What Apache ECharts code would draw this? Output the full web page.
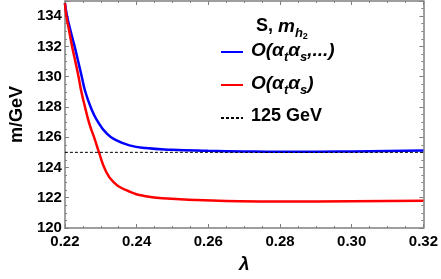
<!DOCTYPE html>
<html>
<head>
<meta charset="utf-8">
<script src="https://cdn.jsdelivr.net/npm/echarts@6/dist/echarts.min.js"></script>
<style>html,body{margin:0;padding:0;background:#fff}#c{width:441px;height:279px}</style>
</head>
<body>
<div id="c"></div>
<script>
var lambdaBlue = [0.2200,0.2206,0.2216,0.2227,0.2237,0.2247,0.2256,0.2272,0.2290,0.2317,0.2344,0.2380,0.2425,0.2497,0.2600,0.2700,0.2800,0.2900,0.3000,0.3100,0.3200];
var mBlue      = [134.85,134.0,133.0,132.0,131.0,130.0,129.08,127.98,127.1,126.23,125.79,125.46,125.28,125.17,125.1,125.06,125.04,125.04,125.06,125.09,125.12];
var lambdaRed  = [0.2200,0.2204,0.2212,0.2220,0.2229,0.2238,0.2245,0.2256,0.2268,0.2282,0.2295,0.2313,0.2335,0.2371,0.2425,0.2497,0.2562,0.2650,0.2800,0.3000,0.3200];
var mRed       = [134.85,134.0,133.0,132.0,131.0,130.0,129.1,128.0,126.9,125.95,125.0,123.82,123.05,122.5,122.1,121.93,121.85,121.79,121.75,121.76,121.8];
var lambdaRef  = [0.22,0.32];
var mRef       = [125,125];
var seriesNames = ['O(αtαs,...)','O(αtαs)','125 GeV'];
var xTicks = {min:0.22,max:0.32,interval:0.02};
var yTicks = {min:120,max:135,interval:2};

function pairs(xs,ys){return xs.map(function(x,i){return [x,ys[i]];});}

var font = 'Liberation Sans, Arial, sans-serif';
var gray = '#7f7f7f';
function axisCommon(showLabel){
  return {
    axisLine:{show:true,onZero:false,lineStyle:{color:gray,width:1.5}},
    axisTick:{show:true,inside:true,length:4,lineStyle:{color:gray,width:1}},
    minorTick:{show:true,splitNumber:4,length:2,lineStyle:{color:gray,width:1}},
    splitLine:{show:false},
    axisLabel:{show:showLabel,color:'#000',fontFamily:font,fontWeight:'bold',fontSize:15}
  };
}
var xa0 = Object.assign(axisCommon(true),{type:'value',position:'bottom',min:xTicks.min,max:xTicks.max,interval:xTicks.interval,
  name:'λ',nameLocation:'middle',nameGap:27,nameTextStyle:{fontFamily:font,fontWeight:'bold',fontStyle:'italic',fontSize:19,color:'#000'}});
xa0.axisLabel.margin = 6;
xa0.axisLabel.formatter = function(v){return v.toFixed(2);};
var xa1 = Object.assign(axisCommon(false),{type:'value',position:'top',min:xTicks.min,max:xTicks.max,interval:xTicks.interval});
var ya0 = Object.assign(axisCommon(true),{type:'value',position:'left',min:yTicks.min,max:yTicks.max,interval:yTicks.interval,
  name:'m/GeV',nameLocation:'middle',nameGap:35,nameTextStyle:{fontFamily:font,fontWeight:'bold',fontSize:18,color:'#000'}});
ya0.axisLabel.margin = 3;
ya0.axisLabel.showMaxLabel = false;
var ya1 = Object.assign(axisCommon(false),{type:'value',position:'right',min:yTicks.min,max:yTicks.max,interval:yTicks.interval});

var rich = {
  n:{fontFamily:font,fontWeight:'bold',fontStyle:'italic',fontSize:19,lineHeight:22,verticalAlign:'top',color:'#000'},
  s:{fontFamily:font,fontWeight:'bold',fontStyle:'italic',fontSize:13,lineHeight:14,padding:[10,0,0,0],verticalAlign:'top',color:'#000'},
  r:{fontFamily:font,fontWeight:'bold',fontSize:18,lineHeight:22,verticalAlign:'top',color:'#000'},
  ss:{fontFamily:font,fontWeight:'bold',fontSize:9,lineHeight:10,padding:[15,0,0,0],verticalAlign:'top',color:'#000'}
};
var legendText = {};
legendText[seriesNames[0]] = '{n|O(α}{s|t}{n|α}{s|s}{n|,...)}';
legendText[seriesNames[1]] = '{n|O(α}{s|t}{n|α}{s|s}{n|)}';
legendText[seriesNames[2]] = '{r|125 GeV}';

var chart = echarts.init(document.getElementById('c'),null,{renderer:'canvas'});
chart.setOption({
  animation:false,
  backgroundColor:'#fff',
  grid:{left:56,right:15,top:1,bottom:51,containLabel:false},
  title:{text:'{r|S, }{n|m}{s|h}{ss|2}',left:251,top:12,textStyle:{rich:rich}},
  legend:{orient:'vertical',left:215,top:36,itemWidth:22,itemHeight:12,itemGap:10,
    data:seriesNames,
    itemStyle:{opacity:0},
    formatter:function(n){return legendText[n];},
    textStyle:{rich:rich,padding:[0,0,0,3]}},
  xAxis:[xa0,xa1],
  yAxis:[ya0,ya1],
  series:[
    {name:seriesNames[0],type:'line',data:pairs(lambdaBlue,mBlue),showSymbol:false,symbol:'none',smooth:0.5,
      lineStyle:{color:'#0000ff',width:2.5},itemStyle:{color:'#0000ff'},z:3},
    {name:seriesNames[1],type:'line',data:pairs(lambdaRed,mRed),showSymbol:false,symbol:'none',smooth:0.5,
      lineStyle:{color:'#ff0000',width:2.5},itemStyle:{color:'#ff0000'},z:3},
    {name:seriesNames[2],type:'line',data:pairs(lambdaRef,mRef),showSymbol:false,symbol:'none',
      lineStyle:{color:'#000',width:1,type:[3,2]},itemStyle:{color:'#000'},z:4}
  ]
});
</script>
</body>
</html>
